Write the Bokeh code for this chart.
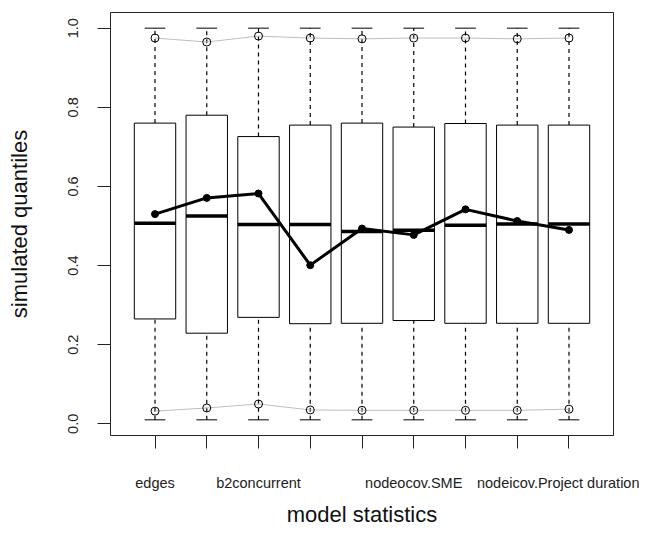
from bokeh.plotting import figure
from bokeh.models import Range1d, FixedTicker, ColumnDataSource
from bokeh.embed import file_html
from bokeh.resources import INLINE

# ---- data ----
stat_pos = [1, 2, 3, 4, 5, 6, 7, 8, 9]
stat_labels = ["edges", "", "b2concurrent", "", "", "nodeocov.SME", "", "", "nodeicov.Project duration"]
box_min = [0.01, 0.01, 0.01, 0.01, 0.01, 0.01, 0.01, 0.01, 0.01]
box_q1 = [0.265, 0.229, 0.269, 0.253, 0.254, 0.261, 0.254, 0.254, 0.254]
box_med = [0.507, 0.525, 0.504, 0.504, 0.486, 0.489, 0.502, 0.505, 0.505]
box_q3 = [0.760, 0.780, 0.726, 0.755, 0.760, 0.750, 0.759, 0.755, 0.755]
box_max = [1.0, 1.0, 1.0, 1.0, 1.0, 1.0, 1.0, 1.0, 1.0]
upper_q = [0.975, 0.965, 0.980, 0.975, 0.973, 0.975, 0.975, 0.973, 0.975]
lower_q = [0.032, 0.040, 0.050, 0.035, 0.034, 0.034, 0.034, 0.034, 0.037]
observed = [0.530, 0.571, 0.582, 0.401, 0.4935, 0.4775, 0.542, 0.5125, 0.490]
y_ticks = [0.0, 0.2, 0.4, 0.6, 0.8, 1.0]

FONT = "Liberation Sans"

src = ColumnDataSource(dict(
    x=stat_pos,
    xl=[v - 0.4 for v in stat_pos], xr=[v + 0.4 for v in stat_pos],
    cl=[v - 0.2 for v in stat_pos], cr=[v + 0.2 for v in stat_pos],
    mn=box_min, q1=box_q1, med=box_med, q3=box_q3, mx=box_max,
    up=upper_q, lo=lower_q, obs=observed,
))

p = figure(width=639, height=529, output_backend="svg", toolbar_location=None,
           x_range=Range1d(0.14, 9.86), y_range=Range1d(-0.0296, 1.0396),
           min_border_left=110, min_border_right=26, min_border_top=12, min_border_bottom=89)
p.xgrid.visible = False
p.ygrid.visible = False
p.outline_line_color = "black"
p.outline_line_width = 1
p.outline_line_alpha = 0.85
p.background_fill_color = "white"
p.border_fill_color = "white"

# whiskers (dashed)
p.segment(x0="x", y0="q3", x1="x", y1="mx", source=src, line_color="black",
          line_width=1.2, line_dash="4 4")
p.segment(x0="x", y0="mn", x1="x", y1="q1", source=src, line_color="black",
          line_width=1.2, line_dash="4 4")
# caps
p.segment(x0="cl", y0="mx", x1="cr", y1="mx", source=src, line_color="black", line_width=1)
p.segment(x0="cl", y0="mn", x1="cr", y1="mn", source=src, line_color="black", line_width=1)
# boxes
p.quad(left="xl", right="xr", bottom="q1", top="q3", source=src,
       fill_color="white", line_color="black", line_width=1)
# medians
p.segment(x0="xl", y0="med", x1="xr", y1="med", source=src, line_color="black", line_width=3.5)

# simulated 2.5/97.5% quantile lines
p.line(x="x", y="up", source=src, line_color="#bebebe", line_width=1)
p.line(x="x", y="lo", source=src, line_color="#bebebe", line_width=1)
p.scatter(x="x", y="up", source=src, marker="circle", size=8, fill_color=None,
          line_color="black", line_width=1)
p.scatter(x="x", y="lo", source=src, marker="circle", size=8, fill_color=None,
          line_color="black", line_width=1)

# observed
p.line(x="x", y="obs", source=src, line_color="black", line_width=3)
p.scatter(x="x", y="obs", source=src, marker="circle", size=7, fill_color="black",
          line_color="black")

# axes
p.xaxis.ticker = FixedTicker(ticks=stat_pos)
p.xaxis.major_label_overrides = {v: lab for v, lab in zip(stat_pos, stat_labels)}
p.yaxis.ticker = FixedTicker(ticks=y_ticks)
p.yaxis.major_label_overrides = {v: f"{v:.1f}" for v in y_ticks}
for ax in (p.xaxis[0], p.yaxis[0]):
    ax.axis_line_color = None
    ax.major_tick_out = 13
    ax.major_tick_in = 0
    ax.minor_tick_out = 0
    ax.minor_tick_in = 0
    ax.major_tick_line_color = "#222222"
    ax.major_label_text_font = FONT
    ax.major_label_text_font_size = "14.5px"
    ax.major_label_text_color = "#222222"
    ax.axis_label_text_font = FONT
    ax.axis_label_text_font_size = "22px"
    ax.axis_label_text_font_style = "normal"
    ax.axis_label_text_color = "#111111"

p.yaxis.major_label_orientation = "vertical"
p.yaxis.major_label_standoff = 19
p.xaxis.major_label_standoff = 26
p.xaxis.axis_label = "model statistics"
p.yaxis.axis_label = "simulated quantiles"
p.xaxis.axis_label_standoff = 8
p.yaxis.axis_label_standoff = 34

open("out.html", "w").write(file_html(p, INLINE))
